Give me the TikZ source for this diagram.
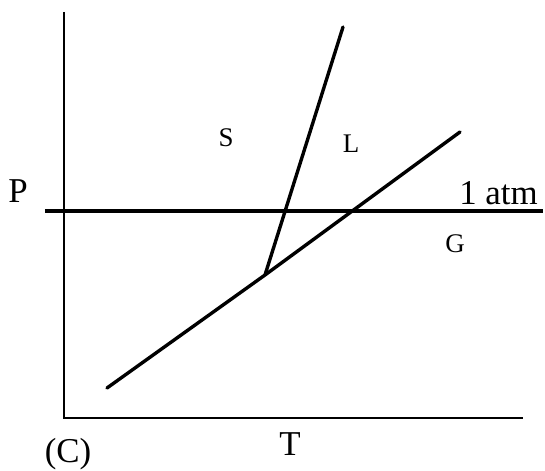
\documentclass[tikz,border=0pt]{standalone}
\usepackage{fontspec}
\setmainfont{Liberation Serif}
\usetikzlibrary{positioning}
\tikzset{
  axis/.style={draw=black,line width=2pt},
  phase/.style={draw=black,line width=3.4pt,line cap=round},
  atmline/.style={draw=black,line width=3.8pt},
  biglbl/.style={font=\fontsize{35}{40}\selectfont,inner sep=0pt},
  reglbl/.style={font=\fontsize{27}{32}\selectfont,inner sep=0pt},
}
\begin{document}
\begin{tikzpicture}[x=10bp,y=10bp]
    \useasboundingbox (-6.4,-5.3) rectangle (48.1,41.8);
    % axes
    \coordinate (o) at (0,0);
    \coordinate (ytop) at (0,40.6);
    \coordinate (xend) at (45.9,0);
    \draw[axis] (ytop) -- (o) -- (xend);
    % 1 atm
    \coordinate (atmL) at (-1.9,20.7);
    \coordinate (atmR) at (47.9,20.7);
    \draw[atmline] (atmL) -- (atmR);
    % phase boundaries
    \coordinate (sub) at (4.3,3.0);
    \coordinate (tp) at (20.1,14.3);
    \coordinate (vap) at (39.6,28.6);
    \coordinate (fus) at (27.9,39.1);
    \draw[phase,line join=round] (sub) -- (tp) -- (vap);
    \draw[phase] (tp) -- (fus);
    % labels
    \node[biglbl,anchor=base] (p) at (-4.6,21.5) {P};
    \node[biglbl,anchor=base east] (atm) at (47.4,21.3) {1 atm};
    \node[reglbl,anchor=base] (s) at (16.2,27.1) {S};
    \node[reglbl,anchor=base] (l) at (28.7,26.5) {L};
    \node[reglbl,anchor=base] (g) at (39.1,16.5) {G};
    \node[biglbl,anchor=base] (t) at (22.6,-3.7) {T};
    \node[biglbl,anchor=base] (c) at (0.4,-4.4) {(C)};
\end{tikzpicture}
\end{document}
